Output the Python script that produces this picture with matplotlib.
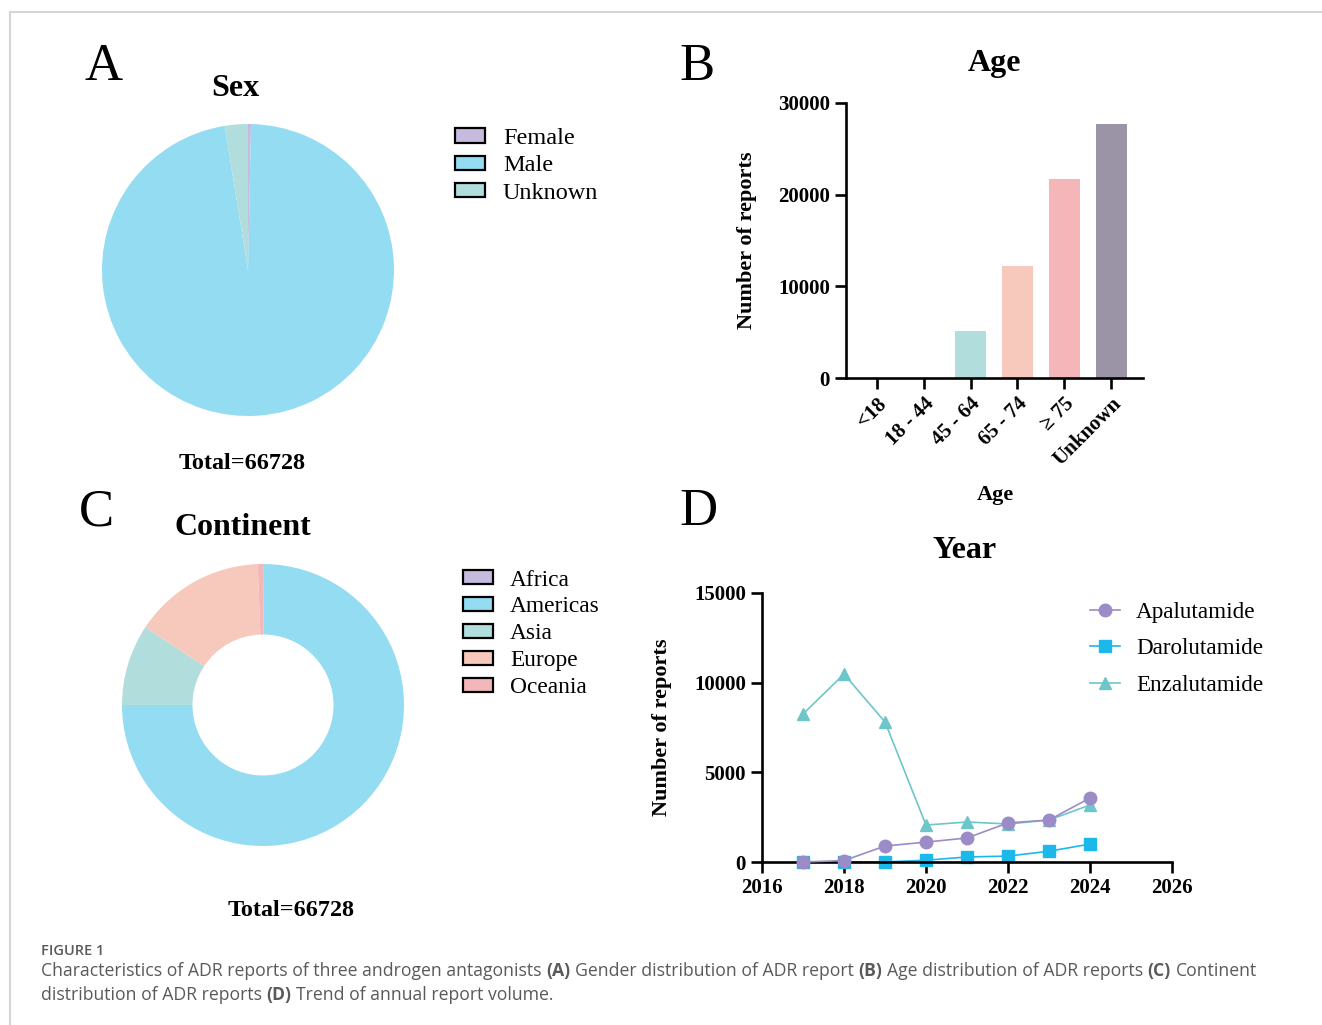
import matplotlib
matplotlib.use("Agg")
import matplotlib.pyplot as plt
from matplotlib.lines import Line2D
from matplotlib.patches import Patch

plt.rcParams['font.family'] = ['Liberation Serif', 'DejaVu Serif']

W, H = 1322, 1025

# --- data ------------------------------------------------------------------
sex_labels = ["Female", "Male", "Unknown"]
sex_values = [220, 64808, 1700]
sex_colors = ["#C6BBDE", "#94DCF2", "#B1DEDC"]

age_labels = ["<18", "18 - 44", "45 - 64", "65 - 74", "\u2265 75", "Unknown"]
age_values = [5, 23, 5100, 12200, 21700, 27700]
age_colors = ["#C6BBDE", "#94DCF2", "#B1DEDC", "#F7C8BC", "#F4B6B8", "#9B93A6"]

cont_labels = ["Africa", "Americas", "Asia", "Europe", "Oceania"]
cont_values = [60, 49988, 6200, 10080, 400]
cont_colors = ["#C6BBDE", "#94DCF2", "#B1DEDC", "#F7C8BC", "#F4B7B9"]

years = [2017, 2018, 2019, 2020, 2021, 2022, 2023, 2024]
apalutamide = [0, 80, 890, 1110, 1340, 2180, 2340, 3570]
darolutamide = [0, 0, 0, 100, 280, 330, 600, 1000]
enzalutamide = [8250, 10480, 7810, 2060, 2230, 2120, 2340, 3180]
drug_colors = {"Apalutamide": "#9B8BC7", "Darolutamide": "#1DB8EA",
               "Enzalutamide": "#6DC6C9"}

TOTAL = 66728


def px_box(x0, y0, x1, y1):
    """pixel box (top-left origin) -> figure fraction rect"""
    return [x0 / W, 1 - y1 / H, (x1 - x0) / W, (y1 - y0) / H]


def ftext(x, y, s, **kw):
    return fig.text(x / W, 1 - y / H, s, **kw)


fig = plt.figure(figsize=(W / 100, H / 100), dpi=100)

# frame lines
fig.add_artist(Line2D([10 / W, 1], [1 - 12 / H, 1 - 12 / H], color="#d6d6d6", lw=1.5))
fig.add_artist(Line2D([10 / W, 10 / W], [0, 1 - 12 / H], color="#d6d6d6", lw=1.5))

# --- A: sex pie ------------------------------------------------------------
axA = fig.add_axes(px_box(102, 124, 394, 416))
axA.pie(sex_values, colors=sex_colors, startangle=90, counterclock=False,
        wedgeprops=dict(linewidth=0))
axA.set_xlim(-1, 1); axA.set_ylim(-1, 1)
ftext(104, 80, "A", fontsize=38, ha="center", va="baseline")
ftext(235, 96, "Sex", fontsize=23, fontweight="bold", ha="center", va="baseline")
ftext(242, 469, f"Total={TOTAL}", fontsize=17.4, fontweight="bold", ha="center", va="baseline")
handles = [Patch(facecolor=c, edgecolor="black", linewidth=1.6) for c in sex_colors]
fig.legend(handles, sex_labels, loc="upper left", bbox_to_anchor=(455 / W, 1 - 128 / H),
           frameon=False, fontsize=17.5, handlelength=1.23, handleheight=0.53,
           handletextpad=0.74, labelspacing=0.26, borderpad=0, borderaxespad=0)

# --- B: age bars -----------------------------------------------------------
axB = fig.add_axes(px_box(846, 103, 1143, 378))
axB.bar(range(len(age_values)), age_values, width=0.66, color=age_colors)
axB.set_xlim(-0.66, 5.68); axB.set_ylim(0, 30000)
axB.set_yticks([0, 10000, 20000, 30000])
axB.set_xticks(range(len(age_labels)))
axB.set_xticklabels(age_labels, rotation=45, ha="right", rotation_mode="anchor")
for s in ["top", "right"]:
    axB.spines[s].set_visible(False)
for s in ["left", "bottom"]:
    axB.spines[s].set_linewidth(1.9)
axB.tick_params(width=1.9, length=8, labelsize=15)
for lab in axB.get_xticklabels() + axB.get_yticklabels():
    lab.set_fontweight("bold")
ftext(697, 80, "B", fontsize=38, ha="center", va="baseline")
ftext(995, 71, "Age", fontsize=23, fontweight="bold", ha="center", va="baseline")
ftext(995, 500, "Age", fontsize=16, fontweight="bold", ha="center", va="baseline")
ftext(747, 240, "Number of reports", fontsize=16, fontweight="bold", rotation=90,
      ha="center", va="center")

# --- C: continent donut ----------------------------------------------------
axC = fig.add_axes(px_box(122, 564, 404, 846))
axC.pie(cont_values, colors=cont_colors, startangle=90, counterclock=False,
        wedgeprops=dict(width=0.5, linewidth=0))
axC.set_xlim(-1, 1); axC.set_ylim(-1, 1)
ftext(96, 525, "C", fontsize=38, ha="center", va="baseline")
ftext(243, 535, "Continent", fontsize=23, fontweight="bold", ha="center", va="baseline")
ftext(291, 916, f"Total={TOTAL}", fontsize=17.4, fontweight="bold", ha="center", va="baseline")
handles = [Patch(facecolor=c, edgecolor="black", linewidth=1.6) for c in cont_colors]
fig.legend(handles, cont_labels, loc="upper left", bbox_to_anchor=(463 / W, 1 - 569.5 / H),
           frameon=False, fontsize=16.8, handlelength=1.29, handleheight=0.55,
           handletextpad=0.73, labelspacing=0.255, borderpad=0, borderaxespad=0)

# --- D: yearly trend -------------------------------------------------------
axD = fig.add_axes(px_box(762, 593, 1172, 862))
axD.plot(years, apalutamide, "-o", color=drug_colors["Apalutamide"], lw=1.2, ms=9,
         label="Apalutamide", clip_on=False, zorder=3)
axD.plot(years, darolutamide, "-s", color=drug_colors["Darolutamide"], lw=1.2, ms=8.5,
         label="Darolutamide", clip_on=False, zorder=2)
axD.plot(years, enzalutamide, "-^", color=drug_colors["Enzalutamide"], lw=1.2, ms=8.5,
         label="Enzalutamide", clip_on=False, zorder=2)
axD.set_xlim(2016, 2026); axD.set_ylim(0, 15000)
axD.set_xticks(range(2016, 2027, 2))
axD.set_yticks([0, 5000, 10000, 15000])
for s in ["top", "right"]:
    axD.spines[s].set_visible(False)
for s in ["left", "bottom"]:
    axD.spines[s].set_linewidth(1.9)
axD.tick_params(width=1.9, length=8, labelsize=15)
for lab in axD.get_xticklabels() + axD.get_yticklabels():
    lab.set_fontweight("bold")
fig.legend(*axD.get_legend_handles_labels(), loc="upper left",
           bbox_to_anchor=(1090 / W, 1 - 601.5 / H), frameon=False, fontsize=16.7,
           handlelength=1.29, handletextpad=0.69, labelspacing=0.66,
           borderpad=0, borderaxespad=0)
ftext(698, 525, "D", fontsize=38, ha="center", va="baseline")
ftext(965, 558, "Year", fontsize=23, fontweight="bold", ha="center", va="baseline")
ftext(662, 727, "Number of reports", fontsize=16, fontweight="bold", rotation=90,
      ha="center", va="center")

# --- caption ---------------------------------------------------------------
cap = dict(family=["Open Sans", "DejaVu Sans"], color="#5a5a5a", va="baseline")
ftext(41, 955, "FIGURE 1", fontsize=10.5, fontweight="semibold", **cap)

renderer = fig.canvas.get_renderer()


def rich_line(x, y, parts, size):
    sp = fig.text(0, 0, "a a", fontsize=size, **cap)
    nsp = fig.text(0, 0, "aa", fontsize=size, **cap)
    gap = sp.get_window_extent(renderer).width - nsp.get_window_extent(renderer).width
    sp.remove(); nsp.remove()
    xp = x
    for txt, bold in parts:
        t = fig.text(xp / W, 1 - y / H, txt, fontsize=size,
                     fontweight="bold" if bold else "normal", **cap)
        xp += t.get_window_extent(renderer).width + gap


line1 = [("Characteristics of ADR reports of three androgen antagonists", False),
         ("(A)", True), ("Gender distribution of ADR report", False),
         ("(B)", True), ("Age distribution of ADR reports", False),
         ("(C)", True), ("Continent", False)]
line2 = [("distribution of ADR reports", False), ("(D)", True),
         ("Trend of annual report volume.", False)]
rich_line(41, 976, line1, 12.7)
rich_line(41, 1000, line2, 12.7)

fig.savefig("out.png", dpi=100)
